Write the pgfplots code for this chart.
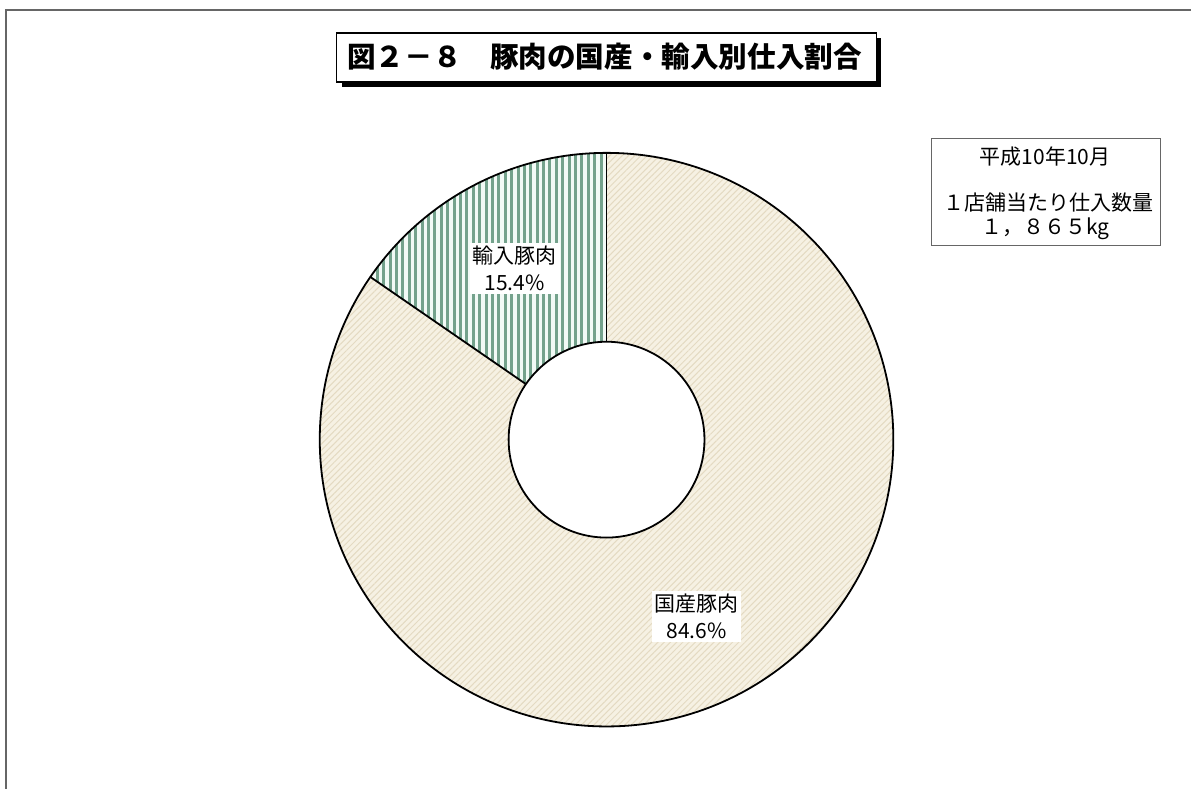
\documentclass[border=0pt]{standalone}
\usepackage{pgfplots}
\pgfplotsset{compat=1.18}
\usepackage{pgfplotstable}
\usepackage{fontspec}
\setmainfont{Noto Sans CJK JP}
\usetikzlibrary{patterns.meta}
\definecolor{domfill}{HTML}{F6F1E3}
\definecolor{domhatch}{HTML}{E4DAC2}
\definecolor{impline}{HTML}{74A28C}
\definecolor{impgap}{HTML}{F2FAF6}
\pgfplotstableread{
label value
domestic 84.6
import 15.4
}\pigdata
\def\Rout{143.5pt}
\def\Rin{49pt}
\begin{document}%
\begin{tikzpicture}
\pgfplotstablegetelem{0}{value}\of\pigdata \let\vdom\pgfplotsretval
\pgfplotstablegetelem{1}{value}\of\pigdata \let\vimp\pgfplotsretval
\pgfmathsetmacro\asplit{90+3.6*\vimp}
\pgfmathsetmacro\aend{\asplit+3.6*\vdom}
\begin{axis}[at={(0,0)}, anchor=south west, width=596pt, height=395pt, scale only axis,
  xmin=0, xmax=1192, ymin=0, ymax=790, hide axis, clip=false]
\path (axis cs:0,0) rectangle (axis cs:1192,790);
% frame lines
\draw[gray!80!black, line width=0.9pt] (axis cs:5,780) -- (axis cs:1192,780);
\draw[gray!80!black, line width=0.9pt] (axis cs:6,780) -- (axis cs:6,0);
% donut
\begin{scope}[shift={(axis cs:607,350)}]
  % domestic
  \fill[domfill] (\asplit:\Rout) arc[start angle=\asplit, end angle=\aend, radius=\Rout]
     -- (\aend:\Rin) arc[start angle=\aend, end angle=\asplit, radius=\Rin] -- cycle;
  \fill[pattern={Lines[angle=45, distance=2.2pt, line width=0.5pt]}, pattern color=domhatch]
     (\asplit:\Rout) arc[start angle=\asplit, end angle=\aend, radius=\Rout]
     -- (\aend:\Rin) arc[start angle=\aend, end angle=\asplit, radius=\Rin] -- cycle;
  % import
  \fill[impgap] (90:\Rout) arc[start angle=90, end angle=\asplit, radius=\Rout]
     -- (\asplit:\Rin) arc[start angle=\asplit, end angle=90, radius=\Rin] -- cycle;
  \fill[pattern={Lines[angle=90, distance=3.2pt, line width=1.5pt]}, pattern color=impline]
     (90:\Rout) arc[start angle=90, end angle=\asplit, radius=\Rout]
     -- (\asplit:\Rin) arc[start angle=\asplit, end angle=90, radius=\Rin] -- cycle;
  % outlines
  \draw[black, line width=0.9pt] (0,0) circle[radius=\Rout];
  \draw[black, line width=0.9pt] (0,0) circle[radius=\Rin];
  \draw[black, line width=0.9pt] (90:\Rin) -- (90:\Rout);
  \draw[black, line width=0.9pt] (\asplit:\Rin) -- (\asplit:\Rout);
\end{scope}
% labels
\node[fill=white, align=center, inner sep=1.5pt, font=\fontsize{10.5}{13.5}\selectfont]
  at (axis cs:515,521) {輸入豚肉\\15.4\%};
\node[fill=white, align=center, inner sep=1.5pt, font=\fontsize{10.5}{13.5}\selectfont]
  at (axis cs:697,173) {国産豚肉\\84.6\%};
% title
\fill[black] (axis cs:342,703) rectangle (axis cs:882,752);
\draw[fill=white, line width=0.7pt] (axis cs:337,708) rectangle (axis cs:877,757);
\node[font=\fontsize{14.3}{16}\selectfont\bfseries] at (axis cs:605,733) {図２－８　豚肉の国産・輸入別仕入割合};
% info box
\draw[gray!80!black, line width=0.6pt, fill=white] (axis cs:932,544) rectangle (axis cs:1161,651);
\node[font=\fontsize{10.5}{12}\selectfont] at (axis cs:1046,633) {平成10年10月};
\node[font=\fontsize{10.5}{12}\selectfont] at (axis cs:1049,587) {１店舗当たり仕入数量};
\node[font=\fontsize{10.5}{12}\selectfont] at (axis cs:1046,561) {１，８６５kg};
\end{axis}
\end{tikzpicture}%
\end{document}
